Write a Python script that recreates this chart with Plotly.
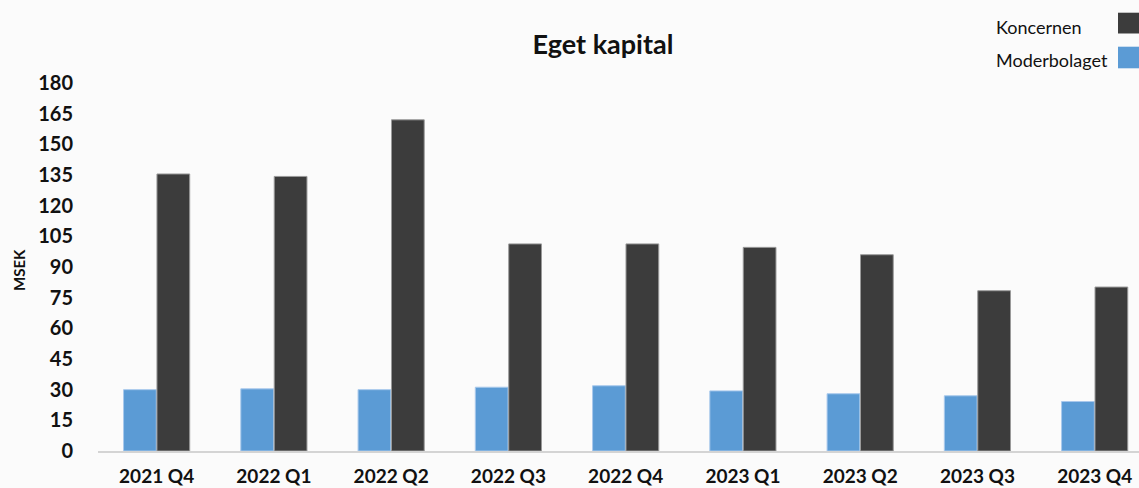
import plotly.graph_objects as go

categories = ["2021 Q4", "2022 Q1", "2022 Q2", "2022 Q3", "2022 Q4",
              "2023 Q1", "2023 Q2", "2023 Q3", "2023 Q4"]
koncernen = [135.5, 134.3, 162.0, 101.3, 101.3, 99.6, 96.0, 78.4, 80.2]
moderbolaget = [30.0, 30.4, 30.0, 31.2, 31.9, 29.4, 28.0, 27.0, 24.2]
y_ticks = list(range(0, 181, 15))

BG = "#fbfbfb"
DARK = "#3c3c3c"
BLUE = "#5b9bd5"
FONT = "Lato"

fig = go.Figure()
fig.add_trace(go.Bar(
    x=categories, y=moderbolaget, name="Moderbolaget",
    marker=dict(color=BLUE, line=dict(color="#a9c9ec", width=1)),
))
fig.add_trace(go.Bar(
    x=categories, y=koncernen, name="Koncernen",
    marker=dict(color=DARK, line=dict(color="#9a9a9a", width=1)),
))

L, T, B = 98, 83, 37
W, H = 1139, 488
pw = W - L
ph = H - T - B

def px_x(x):
    return (x - L) / pw

def px_y(y):
    return (H - B - y) / ph

fig.update_layout(
    width=W, height=H,
    margin=dict(l=L, r=0, t=T, b=B, autoexpand=False),
    paper_bgcolor=BG, plot_bgcolor=BG,
    showlegend=False,
    barmode="group", bargap=0.43, bargroupgap=0.02,
    font=dict(family=FONT, color="#111111"),
    title=dict(text="<b>Eget kapital</b>", x=603 / W, xanchor="center",
               y=1 - 45 / H, yanchor="middle",
               font=dict(family=FONT, size=27, color="#111111")),
    xaxis=dict(
        type="category", range=[-0.5, 8.378],
        showline=True, linecolor="#d4d4d4", linewidth=2,
        showgrid=False, zeroline=False, ticks="",
        ticklabelstandoff=7,
        tickfont=dict(family=FONT, size=19, color="#111111", weight="bold"),
    ),
    yaxis=dict(
        range=[0, 180], tickvals=y_ticks,
        showgrid=False, zeroline=False, showline=False,
        ticks="outside", ticklen=20, tickcolor=BG,
        tickfont=dict(family=FONT, size=20, color="#111111", weight="bold"),
    ),
)

fig.add_annotation(
    text="<b>MSEK</b>", textangle=-90, xref="paper", yref="paper",
    x=px_x(19), y=px_y(270), xanchor="center", yanchor="middle",
    showarrow=False, font=dict(family=FONT, size=15, color="#111111"),
)

legend_items = [("Koncernen", DARK, 27, 12.7, 33.5),
                ("Moderbolaget", BLUE, 60, 46.7, 68.3)]
for name, color, ty, y0, y1 in legend_items:
    fig.add_annotation(
        text=name, xref="paper", yref="paper", x=px_x(994), y=px_y(ty),
        xanchor="left", yanchor="middle", showarrow=False,
        font=dict(family=FONT, size=18, color="#111111"),
    )
    fig.add_shape(
        type="rect", xref="paper", yref="paper",
        x0=px_x(1118), x1=px_x(1145), y0=px_y(y1), y1=px_y(y0),
        fillcolor=color, line=dict(width=0), layer="above",
    )

fig.write_html(
    "out.html",
    config={"displayModeBar": False},
    post_script="document.body.style.margin='0';document.body.style.padding='0';",
)
